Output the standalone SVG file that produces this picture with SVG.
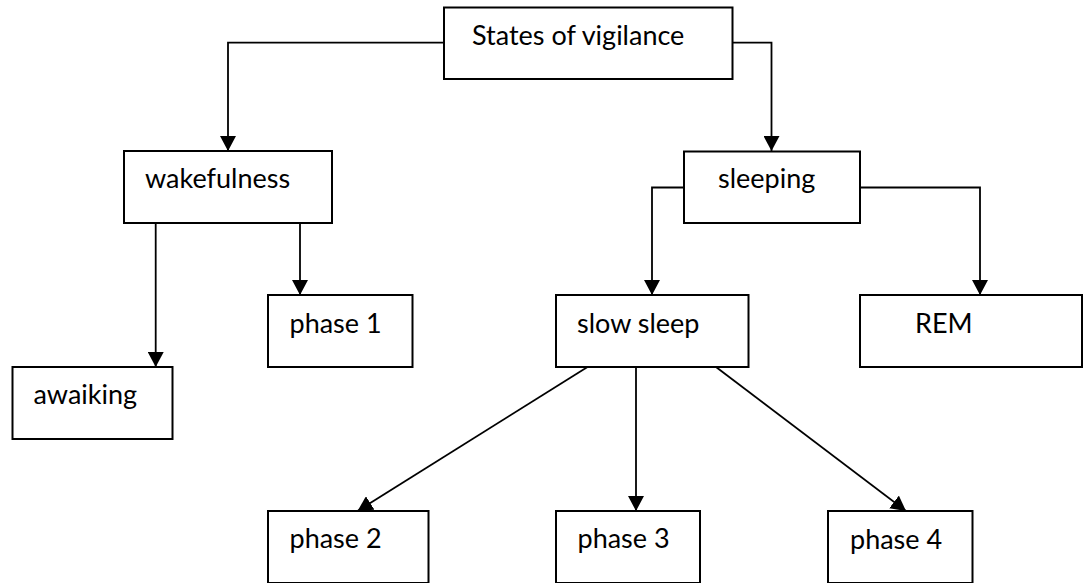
<svg xmlns="http://www.w3.org/2000/svg" width="1092" height="583" viewBox="0 0 1092 583">
<style>
.box{fill:#fff;stroke:#000;stroke-width:2}
.lbl{font-family:Lato,"Liberation Sans",sans-serif;font-size:27px;fill:#000}
.con{fill:none;stroke:#000;stroke-width:1.8}
</style>
<defs>
<marker id="ah" markerUnits="userSpaceOnUse" markerWidth="15" markerHeight="16" refX="15" refY="8" orient="auto">
<path d="M0,0 L15,8 L0,16 z" fill="#000"/>
</marker>
</defs>
<rect width="1092" height="583" fill="#fff"/>
<g id="connectors">
<path class="con" d="M444,42.7 H228 V151" marker-end="url(#ah)"/>
<path class="con" d="M732,42.7 H771.5 V151" marker-end="url(#ah)"/>
<path class="con" d="M684,187.5 H652 V295" marker-end="url(#ah)"/>
<path class="con" d="M860,187.5 H980 V295" marker-end="url(#ah)"/>
<path class="con" d="M155.7,223 V367" marker-end="url(#ah)"/>
<path class="con" d="M300,223 V295" marker-end="url(#ah)"/>
<path class="con" d="M587.5,367 L357.5,511" marker-end="url(#ah)"/>
<path class="con" d="M636,367 V511" marker-end="url(#ah)"/>
<path class="con" d="M716,367 L906,511" marker-end="url(#ah)"/>
</g>
<g id="states"><rect class="box" x="444" y="7.5" width="288.5" height="71.5"/><text class="lbl" x="472" y="45">States of vigilance</text></g>
<g id="wakefulness"><rect class="box" x="124" y="151" width="208" height="72"/><text class="lbl" x="145" y="188">wakefulness</text></g>
<g id="sleeping"><rect class="box" x="684" y="151.5" width="176" height="71.5"/><text class="lbl" x="718" y="188">sleeping</text></g>
<g id="phase1"><rect class="box" x="268" y="295" width="144.5" height="72"/><text class="lbl" x="289.5" y="332.5">phase 1</text></g>
<g id="slowsleep"><rect class="box" x="556" y="295" width="192.5" height="72"/><text class="lbl" x="577" y="332.5">slow sleep</text></g>
<g id="rem"><rect class="box" x="860" y="295" width="222" height="72"/><text class="lbl" x="915" y="332.5">REM</text></g>
<g id="awaiking"><rect class="box" x="12.5" y="367" width="160" height="72"/><text class="lbl" x="33.5" y="404">awaiking</text></g>
<g id="phase2"><rect class="box" x="268" y="511" width="160.5" height="72"/><text class="lbl" x="289.5" y="548">phase 2</text></g>
<g id="phase3"><rect class="box" x="556" y="511" width="144" height="72"/><text class="lbl" x="577.5" y="548">phase 3</text></g>
<g id="phase4"><rect class="box" x="828" y="511" width="144.5" height="72"/><text class="lbl" x="850" y="548.5">phase 4</text></g>
</svg>
